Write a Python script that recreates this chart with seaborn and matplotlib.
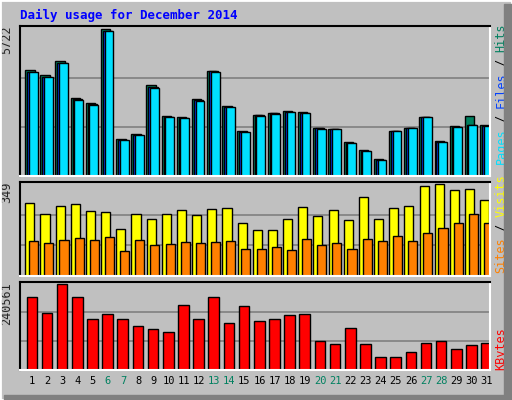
import numpy as np
import matplotlib
matplotlib.use("Agg")
import matplotlib.pyplot as plt
import seaborn as sns
from matplotlib.patches import Rectangle

days = list(range(1, 32))
weekend = [6, 7, 13, 14, 20, 21, 27, 28]

hits = [4125, 3930, 4475, 3035, 2840, 5722, 1440, 1635, 3540, 2335, 2295, 2995, 4085, 2725, 1750,
        2375, 2450, 2530, 2490, 1870, 1830, 1325, 1010, 660, 1750, 1870, 2295, 1360, 1945, 2335, 1985]
files = [4060, 3870, 4410, 2990, 2800, 5660, 1410, 1600, 3460, 2300, 2260, 2950, 4070, 2690, 1730,
         2360, 2440, 2500, 2450, 1850, 1830, 1300, 980, 640, 1745, 1860, 2290, 1340, 1920, 1985, 1960]
pages = [4040, 3850, 4390, 2970, 2780, 5640, 1400, 1580, 3440, 2290, 2250, 2930, 4060, 2670, 1720,
         2350, 2430, 2490, 2440, 1840, 1820, 1290, 970, 630, 1740, 1855, 2285, 1330, 1910, 1980, 1950]
visits = [277, 235, 265, 273, 246, 243, 178, 235, 216, 235, 250, 231, 254, 258, 201,
          174, 174, 216, 262, 227, 250, 212, 299, 216, 258, 265, 341, 349, 326, 330, 288]
sites = [133, 125, 136, 144, 136, 148, 95, 136, 117, 121, 129, 125, 129, 133, 102,
         102, 110, 99, 140, 117, 125, 102, 140, 133, 152, 133, 163, 182, 201, 235, 201]
kbytes = [203760, 158480, 240561, 203760, 141500, 155650, 141500, 121690, 113200, 104710, 181120,
          141500, 203760, 130180, 178290, 135840, 141500, 152820, 155650, 82070, 73580, 116030,
          73580, 36790, 36790, 50940, 76410, 82070, 59430, 70750, 76410]

sns.set_style("white")
plt.rcParams['font.family'] = ['DejaVu Sans Mono']
BG = "#C0C0C0"
x = np.array(days)

fig = plt.figure(figsize=(5.12, 4.0), dpi=100, facecolor=BG)
# frame + shadow
fig.patches.append(Rectangle((0, 0), 1, 1, transform=fig.transFigure, fill=False, ec="white", lw=2))
fig.patches.append(Rectangle((504/512, 0), 8/512, 1 - 4/400, transform=fig.transFigure, color="#808080"))
fig.patches.append(Rectangle((4/512, 0), 1, 5/400, transform=fig.transFigure, color="#808080"))

fig.text(20/512, 1 - 15/400, "Daily usage for December 2014", color="#0000FF",
         fontsize=9, fontweight="bold", va="center")

def panel(rect, top):
    ax = fig.add_axes(rect)
    ax.set_facecolor(BG)
    ax.set_xlim(0.2, 31.2)
    ax.set_ylim(0, top * 1.02)
    for g in (1/3, 2/3):
        ax.axhline(top * g, color="#808080", lw=1.2, zorder=0)
    ax.set_xticks([])
    ax.set_yticks([])
    for s in ax.spines.values():
        s.set_color("black")
        s.set_linewidth(1.5)
    ax.spines["right"].set_color("white")
    ax.spines["bottom"].set_color("white")
    return ax

ax1 = panel([20/512, 1 - 176/400, 470/512, 150/400], max(hits))
ax1.bar(x - 0.46, hits, width=0.62, align="edge", color="#00805F", ec="black", lw=1)
ax1.bar(x - 0.33, files, width=0.6, align="edge", color="#0040FF", ec="black", lw=1)
ax1.bar(x - 0.22, pages, width=0.58, align="edge", color="#00E0FF", ec="black", lw=1)

ax2 = panel([20/512, 1 - 276/400, 470/512, 94/400], max(visits))
ax2.bar(x - 0.45, visits, width=0.6, align="edge", color="#FFFF00", ec="black", lw=1)
ax2.bar(x - 0.2, sites, width=0.6, align="edge", color="#FF8000", ec="black", lw=1)

ax3 = panel([20/512, 1 - 370/400, 470/512, 88/400], max(kbytes))
sns.barplot(x=x - 0.02, y=kbytes, native_scale=True, width=0.7, color="#FF0000",
            saturation=1, edgecolor="black", linewidth=1, ax=ax3)
ax3.set_xlim(0.2, 31.2)
ax3.set_xticks([])
ax3.set_yticks([])

for ax, lab in ((ax1, str(max(hits))), (ax2, str(max(visits))), (ax3, str(max(kbytes)))):
    ax.text(-0.015, 1.0, lab, transform=ax.transAxes, rotation=90, ha="right", va="top", fontsize=8.5)

for d in days:
    ax3.text(d, -0.07, str(d), transform=ax3.get_xaxis_transform(), ha="center", va="top",
             fontsize=7.5, color="#00805F" if d in weekend else "black")

def side(ax, parts, y0):
    y = y0
    for txt, col in parts:
        ax.text(1.01, y, txt, transform=ax.transAxes, rotation=90, ha="left", va="bottom",
                fontsize=8.5, color=col)
        y += len(txt) * 7.0 / (ax.bbox.height)

side(ax1, [("Pages", "#00E0FF"), (" / ", "black"), ("Files", "#0040FF"), (" / ", "black"), ("Hits", "#00805F")], 0.08)
side(ax2, [("Sites", "#FF8000"), (" / ", "black"), ("Visits", "#FFFF00")], 0.03)
side(ax3, [("KBytes", "#FF0000")], 0.0)

fig.savefig("out.png", dpi=100, facecolor=BG)
